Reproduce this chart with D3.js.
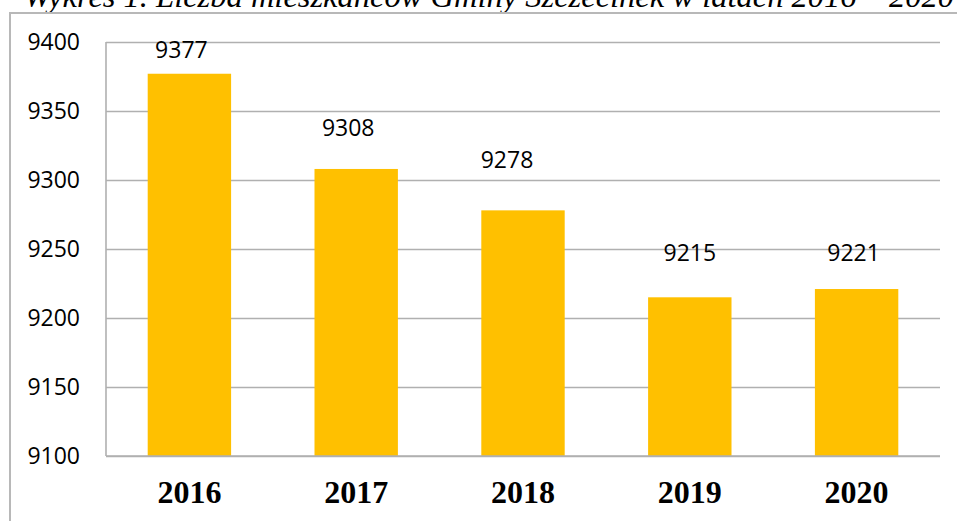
<!DOCTYPE html>
<html>
<head>
<meta charset="utf-8">
<script src="https://cdn.jsdelivr.net/npm/d3@7"></script>
<style>
  body { margin: 0; background: #fff; }
  svg { display: block; }
</style>
</head>
<body>
<script>
const width = 957
const height = 521

const title = 'Wykres 1. Liczba mieszkańców Gminy Szczecinek w latach 2016 – 2020'
const years = ['2016', '2017', '2018', '2019', '2020']
const residents = [9377, 9308, 9278, 9215, 9221]
const yTicks = [9100, 9150, 9200, 9250, 9300, 9350, 9400]

// the value labels were dragged by hand in the original, so nudge them a bit
const labelNudge = [[-8, -16], [-8, -33], [-16, -42], [0, -36], [-3, -28]]

const plot = { left: 106, top: 42, right: 940, bottom: 456 }

const x = d3.scaleBand()
  .domain(years)
  .range([plot.left, plot.right])
  .paddingInner(0.5)
  .paddingOuter(0.25)

const y = d3.scaleLinear()
  .domain([9100, 9400])
  .range([plot.bottom, plot.top])

const svg = d3.select('body').append('svg')
  .attr('width', width)
  .attr('height', height)

// title is cut off by the top edge in the source
svg.append('text')
  .attr('x', 24)
  .attr('y', 7)
  .style('font-family', '"Liberation Serif", "Times New Roman", serif')
  .style('font-style', 'italic')
  .style('font-size', '32.5px')
  .text(title)

// outer chart frame, runs off the right and bottom
svg.append('rect')
  .attr('x', 10)
  .attr('y', 13)
  .attr('width', width + 20)
  .attr('height', height + 20)
  .attr('fill', 'none')
  .attr('stroke', '#b8b8b8')
  .attr('stroke-width', 2)

// gridlines + tick labels
const yAxis = d3.axisLeft(y)
  .tickValues(yTicks)
  .tickSize(-(plot.right - plot.left))
  .tickPadding(26)
  .tickFormat(d3.format('d'))

svg.append('g')
  .attr('transform', `translate(${plot.left},0)`)
  .call(yAxis)
  .call(g => g.select('.domain').remove())
  .call(g => g.selectAll('.tick line')
    .attr('stroke', '#b0b0b0')
    .attr('stroke-width', 1.6))
  .call(g => g.selectAll('.tick text')
    .attr('fill', '#000')
    .style('font-family', '"Open Sans", sans-serif')
    .style('font-size', '23px'))

// left axis line
svg.append('line')
  .attr('x1', plot.left).attr('x2', plot.left)
  .attr('y1', plot.top).attr('y2', plot.bottom)
  .attr('stroke', '#b0b0b0')
  .attr('stroke-width', 1.6)

svg.selectAll('.bar')
  .data(residents)
  .enter().append('rect')
  .attr('class', 'bar')
  .attr('x', (d, i) => x(years[i]))
  .attr('y', d => y(d))
  .attr('width', x.bandwidth())
  .attr('height', d => y(9100) - y(d))
  .attr('fill', '#FFC000')

// bottom axis line over the bars
svg.append('line')
  .attr('x1', plot.left).attr('x2', plot.right)
  .attr('y1', plot.bottom).attr('y2', plot.bottom)
  .attr('stroke', '#b0b0b0')
  .attr('stroke-width', 1.6)

svg.selectAll('.value')
  .data(residents)
  .enter().append('text')
  .attr('class', 'value')
  .attr('x', (d, i) => x(years[i]) + x.bandwidth() / 2 + labelNudge[i][0])
  .attr('y', (d, i) => y(d) + labelNudge[i][1])
  .attr('text-anchor', 'middle')
  .style('font-family', '"Open Sans", sans-serif')
  .style('font-size', '23px')
  .text(d => d)

svg.selectAll('.year')
  .data(years)
  .enter().append('text')
  .attr('class', 'year')
  .attr('x', d => x(d) + x.bandwidth() / 2)
  .attr('y', 503)
  .attr('text-anchor', 'middle')
  .style('font-family', '"Liberation Serif", "Times New Roman", serif')
  .style('font-weight', 'bold')
  .style('font-size', '32px')
  .text(d => d)
</script>
</body>
</html>
